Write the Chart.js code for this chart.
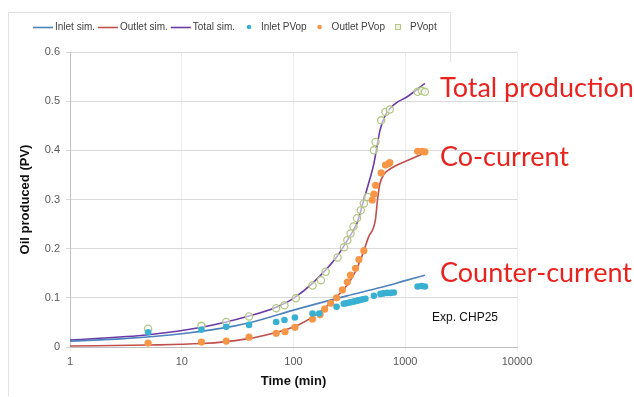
<!DOCTYPE html>
<html>
<head>
<meta charset="utf-8">
<script src="https://cdn.jsdelivr.net/npm/chart.js@4.4.0/dist/chart.umd.min.js"></script>
<style>
  html, body { margin: 0; padding: 0; background: #ffffff; }
  #wrap { width: 634px; height: 397px; position: relative; }
</style>
</head>
<body>
<div id="wrap"><canvas id="c" width="634" height="397"></canvas></div>
<script>
// Time axis decades (min)
const timeTicks = [1, 10, 100, 1000, 10000];
const yTicks = [0, 0.1, 0.2, 0.3, 0.4, 0.5, 0.6];

// Simulated curves
const inletSimT  = [1, 3, 10, 30, 50, 100, 300, 600, 1000, 1500];
const inletSimV  = [0.012, 0.017, 0.027, 0.043, 0.055, 0.075, 0.104, 0.121, 0.135, 0.146];

const outletSimT = [1, 5, 15, 25, 42, 101, 164, 229, 324, 398, 470, 540, 565, 590, 640, 720, 845, 1110, 1500];
const outletSimV = [0.002, 0.004, 0.007, 0.011, 0.018, 0.041, 0.068, 0.096, 0.136, 0.177, 0.224, 0.258, 0.300, 0.330, 0.350, 0.361, 0.370, 0.382, 0.395];

const totalSimT  = [1, 5, 15, 40, 70, 100, 150, 245, 324, 370, 426, 480, 524, 560, 595, 665, 815, 1040, 1500];
const totalSimV  = [0.014, 0.025, 0.040, 0.063, 0.081, 0.099, 0.131, 0.184, 0.228, 0.252, 0.299, 0.340, 0.373, 0.410, 0.441, 0.472, 0.495, 0.509, 0.536];

// Measured production
const inletT  = [5, 15, 25, 40, 70, 83, 103, 148, 170, 243, 282, 295, 310, 325, 340, 355, 370, 385, 400, 420, 440, 524, 600, 640, 690, 740, 790, 1290, 1400, 1500];
const inletV  = [0.030, 0.035, 0.041, 0.045, 0.051, 0.055, 0.060, 0.068, 0.068, 0.082, 0.088, 0.089, 0.090, 0.091, 0.092, 0.093, 0.094, 0.095, 0.096, 0.097, 0.098, 0.104, 0.108, 0.109, 0.110, 0.110, 0.111, 0.123, 0.124, 0.123];

const outletT = [5, 15, 25, 40, 70, 84, 103, 148, 173, 190, 215, 243, 274, 303, 324, 359, 385, 426, 506, 524, 542, 609, 665, 712, 727, 1290, 1410, 1500];
const outletV = [0.008, 0.010, 0.012, 0.020, 0.028, 0.031, 0.040, 0.057, 0.066, 0.077, 0.089, 0.100, 0.116, 0.132, 0.146, 0.160, 0.178, 0.196, 0.299, 0.311, 0.329, 0.354, 0.370, 0.373, 0.375, 0.398, 0.398, 0.397];

const optT = [5, 15, 25, 40, 70, 83, 105, 148, 176, 194, 248, 283, 303, 324, 344, 370, 400, 426, 460, 524, 542, 609, 665, 727, 1290, 1410, 1500];
const optV = [0.037, 0.043, 0.051, 0.062, 0.079, 0.085, 0.099, 0.125, 0.136, 0.153, 0.182, 0.203, 0.217, 0.231, 0.245, 0.262, 0.278, 0.292, 0.305, 0.400, 0.417, 0.461, 0.478, 0.483, 0.519, 0.521, 0.519];

const seriesLabels = ['Inlet sim.', 'Outlet sim.', 'Total sim.', 'Inlet PVop', 'Outlet PVop', 'PVopt'];
const notes = ['Total production', 'Co-current', 'Counter-current'];
const expLabel = 'Exp. CHP25';

const pts = (t, v) => t.map((x, i) => ({ x: x, y: v[i] }));

const FONT = '"Liberation Sans", Arial, sans-serif';

// Legend row across the top of the chart
const topLegend = {
  id: 'topLegend',
  afterDraw(chart) {
    const ctx = chart.ctx;
    ctx.save();
    ctx.font = '10px ' + FONT;
    ctx.textBaseline = 'middle';
    let x = 33;
    const y = 27;
    chart.data.datasets.forEach(ds => {
      const w = ctx.measureText(ds.label).width;
      if (ds.showLine) {
        ctx.strokeStyle = ds.borderColor;
        ctx.lineWidth = 1.6;
        ctx.beginPath();
        ctx.moveTo(x, y + 0.5);
        ctx.lineTo(x + 20, y + 0.5);
        ctx.stroke();
        ctx.fillStyle = '#404040';
        ctx.fillText(ds.label, x + 22, y);
        x += 22 + w + 3;
      } else {
        const cx = x + 11;
        if (ds.legendMarker === 'square') {
          ctx.fillStyle = '#eef3df';
          ctx.strokeStyle = ds.borderColor;
          ctx.lineWidth = 1;
          ctx.fillRect(cx - 2.5, y - 2.5, 5, 5);
          ctx.strokeRect(cx - 2.5, y - 2.5, 5, 5);
        } else {
          ctx.fillStyle = ds.backgroundColor;
          ctx.beginPath();
          ctx.arc(cx, y, 2.3, 0, Math.PI * 2);
          ctx.fill();
        }
        ctx.fillStyle = '#404040';
        ctx.fillText(ds.label, x + 23, y);
        x += 23 + w + 2;
      }
    });
    ctx.restore();
  }
};

// Text notes placed to the right of the plot
const notesPlugin = {
  id: 'notes',
  afterDraw(chart) {
    const ctx = chart.ctx;
    const ys = chart.scales.y;
    ctx.save();
    ctx.fillStyle = '#e8231f';
    ctx.font = '27px Lato, "Open Sans", sans-serif';
    ctx.textBaseline = 'middle';
    ctx.textAlign = 'left';
    ctx.fillText(notes[0], 440, ys.getPixelForValue(0.527));
    ctx.fillText(notes[1], 440, ys.getPixelForValue(0.385));
    ctx.fillText(notes[2], 440, ys.getPixelForValue(0.150));
    ctx.fillStyle = '#111111';
    ctx.font = '12px ' + FONT;
    ctx.fillText(expLabel, 432, ys.getPixelForValue(0.059));
    ctx.restore();
  }
};

// Light outline around the chart block
const framePlugin = {
  id: 'frame',
  beforeDraw(chart) {
    const ctx = chart.ctx;
    ctx.save();
    ctx.strokeStyle = '#e2e2e2';
    ctx.lineWidth = 1;
    ctx.beginPath();
    ctx.moveTo(450.5, 62);
    ctx.lineTo(450.5, 12.5);
    ctx.lineTo(8.5, 12.5);
    ctx.lineTo(8.5, 396);
    ctx.stroke();
    ctx.restore();
  }
};

const lineDs = (label, t, v, color) => ({
  label, data: pts(t, v), showLine: true, borderColor: color, backgroundColor: color,
  borderWidth: 1.6, pointRadius: 0, cubicInterpolationMode: 'monotone', order: 1
});

new Chart(document.getElementById('c'), {
  type: 'scatter',
  data: {
    datasets: [
      lineDs(seriesLabels[0], inletSimT, inletSimV, '#4f81bd'),
      lineDs(seriesLabels[1], outletSimT, outletSimV, '#c0504d'),
      lineDs(seriesLabels[2], totalSimT, totalSimV, '#6a3aa6'),
      { label: seriesLabels[3], data: pts(inletT, inletV), showLine: false, pointStyle: 'circle',
        backgroundColor: '#38b0d2', borderColor: '#38b0d2', pointRadius: 3.3, borderWidth: 0, order: 0 },
      { label: seriesLabels[4], data: pts(outletT, outletV), showLine: false, pointStyle: 'circle',
        backgroundColor: '#f79646', borderColor: '#f79646', pointRadius: 3.6, borderWidth: 0, order: 0 },
      { label: seriesLabels[5], data: pts(optT, optV), showLine: false, pointStyle: 'circle', legendMarker: 'square',
        backgroundColor: 'rgba(255,255,255,0.55)', borderColor: '#b3c886', pointRadius: 3.6, borderWidth: 1.3, order: 0 }
    ]
  },
  options: {
    responsive: false,
    animation: false,
    events: [],
    layout: { padding: { top: 52, left: 0, right: 117, bottom: 8 } },
    plugins: { legend: { display: false }, tooltip: { enabled: false } },
    scales: {
      x: {
        type: 'logarithmic', min: 1, max: 10000,
        afterBuildTicks(scale) { scale.ticks = timeTicks.map(v => ({ value: v })); },
        afterFit(scale) { scale.height = 42; },
        ticks: { color: '#595959', font: { size: 11, family: FONT }, padding: 4, maxRotation: 0,
                 callback: v => String(v) },
        grid: { color: '#ececec', lineWidth: 1, tickLength: 4 },
        border: { color: '#bfbfbf' },
        title: { display: true, text: 'Time (min)', color: '#111', font: { size: 13, weight: 'bold', family: FONT },
                 padding: { top: 2, bottom: 0 } }
      },
      y: {
        min: 0, max: 0.6,
        afterBuildTicks(scale) { scale.ticks = yTicks.map(v => ({ value: v })); },
        afterFit(scale) { scale.width = 70; },
        ticks: { color: '#595959', font: { size: 11, family: FONT }, padding: 6,
                 callback: v => String(Math.round(v * 10) / 10) },
        grid: { color: '#d9d9d9', lineWidth: 1, tickLength: 4 },
        border: { color: '#bfbfbf' },
        title: { display: true, text: 'Oil produced (PV)', color: '#111', font: { size: 13, weight: 'bold', family: FONT },
                 padding: { top: 18, bottom: 0 } }
      }
    }
  },
  plugins: [framePlugin, topLegend, notesPlugin]
});
</script>
</body>
</html>
